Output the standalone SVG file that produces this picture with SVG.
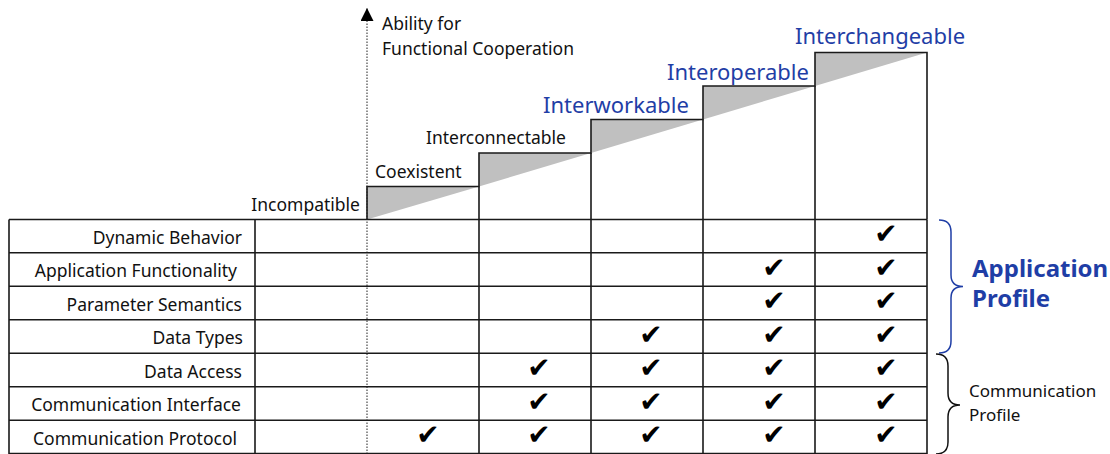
<svg xmlns="http://www.w3.org/2000/svg" width="1110" height="454" viewBox="0 0 1110 454">
<style>
text{font-family:"Comic Sans MS","Noto Sans","DejaVu Sans",sans-serif;fill:#111}
.lbl{font-size:17.5px}
.cp{font-size:17px}
.row{font-size:17.5px;text-anchor:end}
.lvl{font-size:22px;fill:#1f3ea6}
.ck{font-family:"DejaVu Sans",sans-serif;font-size:28px;text-anchor:middle;fill:#000}
.ln{stroke:#1a1a1a;stroke-width:1.6;fill:none}
.tri{fill:#c0c0c0;stroke:none}
.ap{font-size:24px;font-weight:bold;fill:#1f3ea6}
</style>
<defs>
<marker id="ah" viewBox="0 0 10 10" refX="10" refY="5" markerWidth="14" markerHeight="13" markerUnits="userSpaceOnUse" orient="auto">
<path d="M0,0 L10,5 L0,10 Z" fill="#000"/>
</marker>
</defs>

<g id="steps">
<polygon class="tri" points="367,186.5 479,186.5 367,219.5"/>
<polygon class="tri" points="479,153 591,153 479,186.5"/>
<polygon class="tri" points="591,119.5 703,119.5 591,153"/>
<polygon class="tri" points="703,86 815,86 703,119.5"/>
<polygon class="tri" points="815,52.5 927,52.5 815,86"/>
<path class="ln" d="M367,219.5 V186.5 H479 V153 H591 V119.5 H703 V86 H815 V52.5 H927 V219.5"/>
<path class="ln" d="M479,186.5 V219.5 M591,153 V219.5 M703,119.5 V219.5 M815,86 V219.5"/>
</g>

<g id="levels">
<text class="lbl" x="360" y="211" text-anchor="end">Incompatible</text>
<text class="lbl" x="375" y="177.5">Coexistent</text>
<text class="lbl" x="426" y="144">Interconnectable</text>
<text class="lvl" x="543" y="113">Interworkable</text>
<text class="lvl" x="667" y="80">Interoperable</text>
<text class="lvl" x="795" y="44">Interchangeable</text>
</g>

<g id="axis">
<line x1="367" y1="454" x2="367" y2="8" stroke="#222" stroke-width="1" stroke-dasharray="1.5,1.5" marker-end="url(#ah)"/>
<text class="lbl"><tspan x="382" y="30">Ability for</tspan><tspan x="382" y="54.5">Functional Cooperation</tspan></text>
</g>

<g id="table">
<path class="ln" d="M9,219.5 H927 M9,252.8 H927 M9,286.3 H927 M9,319.8 H927 M9,353.3 H927 M9,386.8 H927 M9,420.3 H927 M9,453.5 H927"/>
<path class="ln" d="M9,219.5 V454 M255,219.5 V454 M479,219.5 V454 M591,219.5 V454 M703,219.5 V454 M815,219.5 V454 M927,219.5 V454"/>
<text class="row" x="242" y="243.5">Dynamic Behavior</text>
<text class="row" x="237" y="277">Application Functionality</text>
<text class="row" x="242" y="310.5">Parameter Semantics</text>
<text class="row" x="243" y="344">Data Types</text>
<text class="row" x="242" y="377.5">Data Access</text>
<text class="row" x="241" y="411">Communication Interface</text>
<text class="row" x="237" y="444.5">Communication Protocol</text>
</g>

<g id="checks">
<text class="ck" x="886" y="243">✔</text>
<text class="ck" x="774" y="276.5">✔</text><text class="ck" x="886" y="276.5">✔</text>
<text class="ck" x="774" y="310">✔</text><text class="ck" x="886" y="310">✔</text>
<text class="ck" x="651" y="343.5">✔</text><text class="ck" x="774" y="343.5">✔</text><text class="ck" x="886" y="343.5">✔</text>
<text class="ck" x="539" y="377">✔</text><text class="ck" x="651" y="377">✔</text><text class="ck" x="774" y="377">✔</text><text class="ck" x="886" y="377">✔</text>
<text class="ck" x="539" y="410.5">✔</text><text class="ck" x="651" y="410.5">✔</text><text class="ck" x="774" y="410.5">✔</text><text class="ck" x="886" y="410.5">✔</text>
<text class="ck" x="428" y="444">✔</text><text class="ck" x="539" y="444">✔</text><text class="ck" x="651" y="444">✔</text><text class="ck" x="774" y="444">✔</text><text class="ck" x="886" y="444">✔</text>
</g>

<g id="application-profile">
<path d="M939,220 Q951,220 951,232 V275 Q951,286.5 963,286.5 Q951,286.5 951,298 V341 Q951,353 939,353" fill="none" stroke="#1f3ea6" stroke-width="1.5"/>
<text class="ap"><tspan x="972" y="277">Application</tspan><tspan x="972" y="307">Profile</tspan></text>
</g>

<g id="communication-profile">
<path d="M936,354 Q948,354 948,366 V393 Q948,405 960,405 Q948,405 948,417 V442 Q948,454 936,454" fill="none" stroke="#111" stroke-width="1.5"/>
<text class="cp"><tspan x="969" y="397">Communication</tspan><tspan x="969" y="421">Profile</tspan></text>
</g>
</svg>
